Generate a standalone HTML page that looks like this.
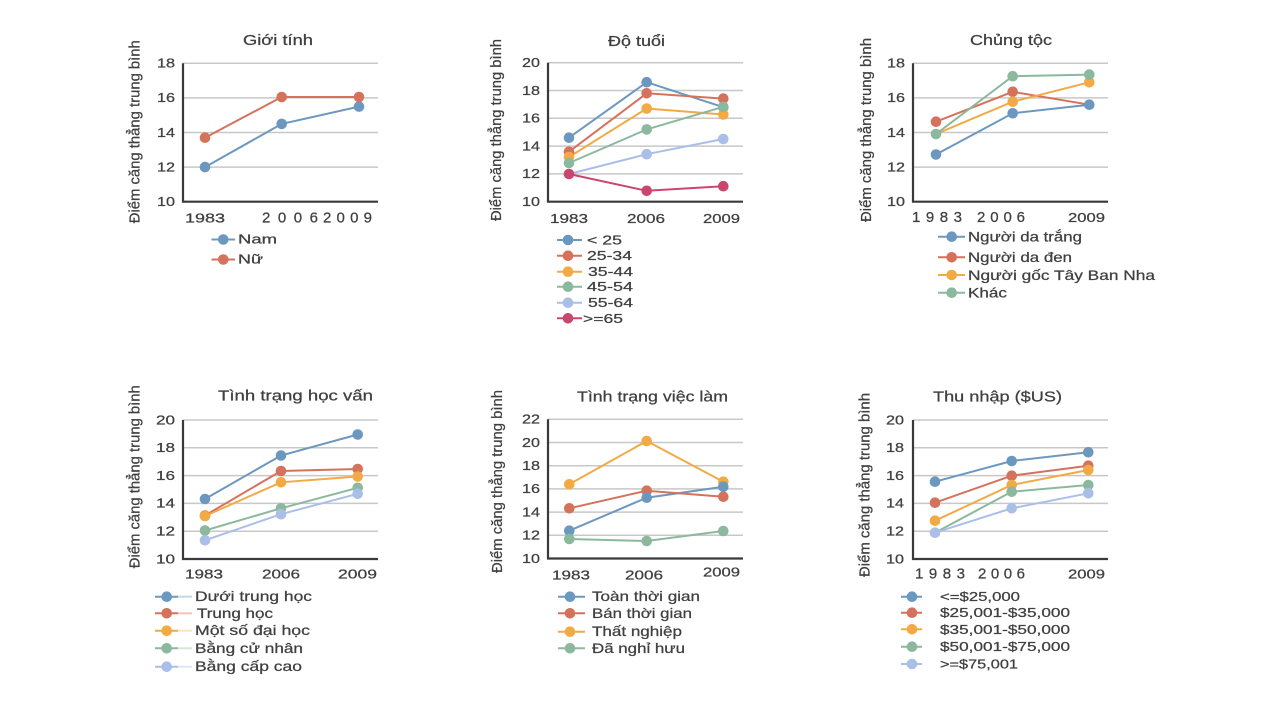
<!DOCTYPE html>
<html><head><meta charset="utf-8"><style>
html,body{margin:0;padding:0;background:#fff;}
svg{display:block;}
text{font-family:"Liberation Sans","DejaVu Sans",sans-serif;fill:#404040;stroke:#404040;stroke-width:0.25;}
.t{font-size:14.5px;}
.tk{font-size:13px;text-anchor:end;}
.xl{font-size:13px;}
.xs{font-size:15px;}
.lg{font-size:13px;}
.yl{font-size:15px;text-anchor:middle;}
.g{stroke:#c8c8c8;stroke-width:1.5;}
.ax{stroke:#3a3a3a;stroke-width:2.2;fill:none;}
polyline{fill:none;stroke-width:2;}
</style></head><body>
<svg width="1280" height="720" viewBox="0 0 1280 720" xmlns="http://www.w3.org/2000/svg">
<rect width="1280" height="720" fill="#fff"/>

<!-- ============ Panel 1: Giới tính ============ -->
<g>
<text class="t" x="243" y="45" textLength="70" lengthAdjust="spacingAndGlyphs">Giới tính</text>
<line class="g" x1="183" y1="63.3" x2="378" y2="63.3"/>
<line class="g" x1="183" y1="97.9" x2="378" y2="97.9"/>
<line class="g" x1="183" y1="132.5" x2="378" y2="132.5"/>
<line class="g" x1="183" y1="167.1" x2="378" y2="167.1"/>
<polyline class="ax" points="183,63.3 183,201.7 378,201.7"/>
<text class="tk" x="175" y="67.6" textLength="18" lengthAdjust="spacingAndGlyphs">18</text>
<text class="tk" x="175" y="102.2" textLength="18" lengthAdjust="spacingAndGlyphs">16</text>
<text class="tk" x="175" y="136.8" textLength="18" lengthAdjust="spacingAndGlyphs">14</text>
<text class="tk" x="175" y="171.4" textLength="18" lengthAdjust="spacingAndGlyphs">12</text>
<text class="tk" x="175" y="206" textLength="18" lengthAdjust="spacingAndGlyphs">10</text>
<text class="xl" x="185" y="222.3" textLength="40" lengthAdjust="spacingAndGlyphs">1983</text>
<text class="xs" x="262" y="222.3" textLength="56" lengthAdjust="spacing">2006</text>
<text class="xs" x="323" y="222.3" textLength="49" lengthAdjust="spacing">2009</text>
<text class="yl" transform="translate(139.5,131.7) rotate(-90)" textLength="183" lengthAdjust="spacingAndGlyphs">Điểm căng thẳng trung bình</text>
<polyline stroke="#6c98c0" points="205,167.1 281.7,123.9 359,106.6"/>
<g fill="#6c98c0"><circle cx="205" cy="167.1" r="5.3"/><circle cx="281.7" cy="123.9" r="5.3"/><circle cx="359" cy="106.6" r="5.3"/></g>
<polyline stroke="#d5725c" points="205,137.7 281.7,97 359,97"/>
<g fill="#d5725c"><circle cx="205" cy="137.7" r="5.3"/><circle cx="281.7" cy="97" r="5.3"/><circle cx="359" cy="97" r="5.3"/></g>
<line x1="211.5" y1="239.5" x2="235" y2="239.5" stroke="#6c98c0" stroke-width="2"/><circle cx="223.3" cy="239.5" r="5.3" fill="#6c98c0"/>
<text class="lg" x="238" y="243.5" textLength="39" lengthAdjust="spacingAndGlyphs">Nam</text>
<line x1="211.5" y1="259.5" x2="235" y2="259.5" stroke="#d5725c" stroke-width="2"/><circle cx="223.3" cy="259.5" r="5.3" fill="#d5725c"/>
<text class="lg" x="238" y="263.5" textLength="25" lengthAdjust="spacingAndGlyphs">Nữ</text>
</g>

<!-- ============ Panel 2: Độ tuổi ============ -->
<g>
<text class="t" x="608" y="46" textLength="57" lengthAdjust="spacingAndGlyphs">Độ tuổi</text>
<line class="g" x1="548" y1="62.7" x2="743" y2="62.7"/>
<line class="g" x1="548" y1="90.5" x2="743" y2="90.5"/>
<line class="g" x1="548" y1="118.3" x2="743" y2="118.3"/>
<line class="g" x1="548" y1="146.1" x2="743" y2="146.1"/>
<line class="g" x1="548" y1="173.9" x2="743" y2="173.9"/>
<polyline class="ax" points="548,62.7 548,201.7 743,201.7"/>
<text class="tk" x="540" y="67" textLength="18" lengthAdjust="spacingAndGlyphs">20</text>
<text class="tk" x="540" y="94.8" textLength="18" lengthAdjust="spacingAndGlyphs">18</text>
<text class="tk" x="540" y="122.6" textLength="18" lengthAdjust="spacingAndGlyphs">16</text>
<text class="tk" x="540" y="150.4" textLength="18" lengthAdjust="spacingAndGlyphs">14</text>
<text class="tk" x="540" y="178.2" textLength="18" lengthAdjust="spacingAndGlyphs">12</text>
<text class="tk" x="540" y="206" textLength="18" lengthAdjust="spacingAndGlyphs">10</text>
<text class="xl" x="550" y="223" textLength="38" lengthAdjust="spacingAndGlyphs">1983</text>
<text class="xl" x="627" y="223" textLength="38" lengthAdjust="spacingAndGlyphs">2006</text>
<text class="xl" x="703" y="223" textLength="37" lengthAdjust="spacingAndGlyphs">2009</text>
<text class="yl" transform="translate(501,130) rotate(-90)" textLength="182" lengthAdjust="spacingAndGlyphs">Điểm căng thẳng trung bình</text>
<polyline stroke="#6c98c0" points="569,137.7 646.7,82.2 723.3,107.2"/>
<polyline stroke="#d5725c" points="569,151.7 646.7,93.3 723.3,98.6"/>
<polyline stroke="#f2aa45" points="569,157 646.7,108.5 723.3,114.5"/>
<polyline stroke="#8cb99d" points="569,163 646.7,129.4 723.3,106.8"/>
<polyline stroke="#a9bfe8" points="569,174 646.7,154.2 723.3,139"/>
<polyline stroke="#c9476d" points="569,174 646.7,190.8 723.3,186.2"/>
<g fill="#6c98c0"><circle cx="569" cy="137.7" r="5.3"/><circle cx="646.7" cy="82.2" r="5.3"/><circle cx="723.3" cy="107.2" r="5.3"/></g>
<g fill="#d5725c"><circle cx="569" cy="151.7" r="5.3"/><circle cx="646.7" cy="93.3" r="5.3"/><circle cx="723.3" cy="98.6" r="5.3"/></g>
<g fill="#f2aa45"><circle cx="569" cy="157" r="5.3"/><circle cx="646.7" cy="108.5" r="5.3"/><circle cx="723.3" cy="114.5" r="5.3"/></g>
<g fill="#8cb99d"><circle cx="569" cy="163" r="5.3"/><circle cx="646.7" cy="129.4" r="5.3"/><circle cx="723.3" cy="106.8" r="5.3"/></g>
<g fill="#a9bfe8"><circle cx="646.7" cy="154.2" r="5.3"/><circle cx="723.3" cy="139" r="5.3"/></g>
<g fill="#c9476d"><circle cx="569" cy="174" r="5.3"/><circle cx="646.7" cy="190.8" r="5.3"/><circle cx="723.3" cy="186.2" r="5.3"/></g>
<g stroke-width="2">
<line x1="557" y1="240" x2="582" y2="240" stroke="#6c98c0"/><circle cx="568" cy="240" r="5.3" fill="#6c98c0"/>
<line x1="557" y1="255.7" x2="582" y2="255.7" stroke="#d5725c"/><circle cx="568" cy="255.7" r="5.3" fill="#d5725c"/>
<line x1="557" y1="271.7" x2="582" y2="271.7" stroke="#f2aa45"/><circle cx="568" cy="271.7" r="5.3" fill="#f2aa45"/>
<line x1="557" y1="286.7" x2="582" y2="286.7" stroke="#8cb99d"/><circle cx="568" cy="286.7" r="5.3" fill="#8cb99d"/>
<line x1="557" y1="302.7" x2="582" y2="302.7" stroke="#a9bfe8"/><circle cx="568" cy="302.7" r="5.3" fill="#a9bfe8"/>
<line x1="557" y1="318.3" x2="582" y2="318.3" stroke="#c9476d"/><circle cx="568" cy="318.3" r="5.3" fill="#c9476d"/>
</g>
<text class="lg" x="587" y="244.5" textLength="35" lengthAdjust="spacingAndGlyphs">&lt; 25</text>
<text class="lg" x="587" y="260.2" textLength="45" lengthAdjust="spacingAndGlyphs">25-34</text>
<text class="lg" x="588" y="276.2" textLength="45" lengthAdjust="spacingAndGlyphs">35-44</text>
<text class="lg" x="587" y="291.2" textLength="46" lengthAdjust="spacingAndGlyphs">45-54</text>
<text class="lg" x="588" y="307.2" textLength="45" lengthAdjust="spacingAndGlyphs">55-64</text>
<text class="lg" x="583" y="322.8" textLength="40" lengthAdjust="spacingAndGlyphs">&gt;=65</text>
</g>

<!-- ============ Panel 3: Chủng tộc ============ -->
<g>
<text class="t" x="970" y="45" textLength="82" lengthAdjust="spacingAndGlyphs">Chủng tộc</text>
<line class="g" x1="913" y1="63.3" x2="1108" y2="63.3"/>
<line class="g" x1="913" y1="97.9" x2="1108" y2="97.9"/>
<line class="g" x1="913" y1="132.5" x2="1108" y2="132.5"/>
<line class="g" x1="913" y1="167.1" x2="1108" y2="167.1"/>
<polyline class="ax" points="913,63.3 913,201.7 1108,201.7"/>
<text class="tk" x="905" y="67.6" textLength="18" lengthAdjust="spacingAndGlyphs">18</text>
<text class="tk" x="905" y="102.2" textLength="18" lengthAdjust="spacingAndGlyphs">16</text>
<text class="tk" x="905" y="136.8" textLength="18" lengthAdjust="spacingAndGlyphs">14</text>
<text class="tk" x="905" y="171.4" textLength="18" lengthAdjust="spacingAndGlyphs">12</text>
<text class="tk" x="905" y="206" textLength="18" lengthAdjust="spacingAndGlyphs">10</text>
<text class="xs" x="912" y="222" textLength="50" lengthAdjust="spacing">1983</text>
<text class="xs" x="977" y="222" textLength="48" lengthAdjust="spacing">2006</text>
<text class="xl" x="1068" y="222" textLength="37" lengthAdjust="spacingAndGlyphs">2009</text>
<text class="yl" transform="translate(871,130) rotate(-90)" textLength="184" lengthAdjust="spacingAndGlyphs">Điểm căng thẳng trung bình</text>
<polyline stroke="#6c98c0" points="936,154.5 1012.7,113.3 1089.3,104.7"/>
<polyline stroke="#d5725c" points="936,121.7 1012.7,91.8 1089.3,104.7"/>
<polyline stroke="#f2aa45" points="936,134 1012.7,101.7 1089.3,82.3"/>
<polyline stroke="#8cb99d" points="936,134 1012.7,76.2 1089.3,74.6"/>
<g fill="#6c98c0"><circle cx="936" cy="154.5" r="5.3"/><circle cx="1012.7" cy="113.3" r="5.3"/><circle cx="1089.3" cy="104.7" r="5.3"/></g>
<g fill="#d5725c"><circle cx="936" cy="121.7" r="5.3"/><circle cx="1012.7" cy="91.8" r="5.3"/></g>
<g fill="#f2aa45"><circle cx="1012.7" cy="101.7" r="5.3"/><circle cx="1089.3" cy="82.3" r="5.3"/></g>
<g fill="#8cb99d"><circle cx="936" cy="134" r="5.3"/><circle cx="1012.7" cy="76.2" r="5.3"/><circle cx="1089.3" cy="74.6" r="5.3"/></g>
<g stroke-width="2">
<line x1="938" y1="236.7" x2="965" y2="236.7" stroke="#6c98c0"/><circle cx="951.7" cy="236.7" r="5.3" fill="#6c98c0"/>
<line x1="938" y1="257.3" x2="965" y2="257.3" stroke="#d5725c"/><circle cx="951.7" cy="257.3" r="5.3" fill="#d5725c"/>
<line x1="938" y1="275" x2="965" y2="275" stroke="#f2aa45"/><circle cx="951.7" cy="275" r="5.3" fill="#f2aa45"/>
<line x1="938" y1="292.7" x2="965" y2="292.7" stroke="#8cb99d"/><circle cx="951.7" cy="292.7" r="5.3" fill="#8cb99d"/>
</g>
<text class="lg" x="968" y="241.5" textLength="114" lengthAdjust="spacingAndGlyphs" style="font-size:14px">Người da trắng</text>
<text class="lg" x="968" y="262" textLength="104" lengthAdjust="spacingAndGlyphs" style="font-size:14px">Người da đen</text>
<text class="lg" x="968" y="279.8" textLength="187" lengthAdjust="spacingAndGlyphs" style="font-size:14px">Người gốc Tây Ban Nha</text>
<text class="lg" x="968" y="297.5" textLength="39" lengthAdjust="spacingAndGlyphs" style="font-size:14px">Khác</text>
</g>

<!-- ============ Panel 4: Tình trạng học vấn ============ -->
<g>
<text class="t" x="218" y="400.7" textLength="155" lengthAdjust="spacingAndGlyphs">Tình trạng học vấn</text>
<line class="g" x1="183" y1="420" x2="378" y2="420"/>
<line class="g" x1="183" y1="447.8" x2="378" y2="447.8"/>
<line class="g" x1="183" y1="475.6" x2="378" y2="475.6"/>
<line class="g" x1="183" y1="503.4" x2="378" y2="503.4"/>
<line class="g" x1="183" y1="531.2" x2="378" y2="531.2"/>
<polyline class="ax" points="183,420 183,559 378,559"/>
<text class="tk" x="175" y="424.3" textLength="19" lengthAdjust="spacingAndGlyphs">20</text>
<text class="tk" x="175" y="452.1" textLength="19" lengthAdjust="spacingAndGlyphs">18</text>
<text class="tk" x="175" y="479.9" textLength="19" lengthAdjust="spacingAndGlyphs">16</text>
<text class="tk" x="175" y="507.7" textLength="19" lengthAdjust="spacingAndGlyphs">14</text>
<text class="tk" x="175" y="535.5" textLength="19" lengthAdjust="spacingAndGlyphs">12</text>
<text class="tk" x="175" y="563.3" textLength="19" lengthAdjust="spacingAndGlyphs">10</text>
<text class="xl" x="185" y="578.3" textLength="38" lengthAdjust="spacingAndGlyphs">1983</text>
<text class="xl" x="262" y="578.3" textLength="38" lengthAdjust="spacingAndGlyphs">2006</text>
<text class="xl" x="338" y="578.3" textLength="39" lengthAdjust="spacingAndGlyphs">2009</text>
<text class="yl" transform="translate(139.5,476.7) rotate(-90)" textLength="183" lengthAdjust="spacingAndGlyphs">Điểm căng thẳng trung bình</text>
<polyline stroke="#6c98c0" points="205,499 281,455.5 357.7,434.5"/>
<polyline stroke="#d5725c" points="205,515.5 281,471 357.7,469"/>
<polyline stroke="#f2aa45" points="205,516 281,482.3 357.7,476.5"/>
<polyline stroke="#8cb99d" points="205,530.5 281,508.3 357.7,487.8"/>
<polyline stroke="#a9bfe8" points="205,540.3 281,514.2 357.7,493.8"/>
<g fill="#6c98c0"><circle cx="205" cy="499" r="5.3"/><circle cx="281" cy="455.5" r="5.3"/><circle cx="357.7" cy="434.5" r="5.3"/></g>
<g fill="#d5725c"><circle cx="205" cy="515.5" r="5.3"/><circle cx="281" cy="471" r="5.3"/><circle cx="357.7" cy="469" r="5.3"/></g>
<g fill="#f2aa45"><circle cx="205" cy="516" r="5.3"/><circle cx="281" cy="482.3" r="5.3"/><circle cx="357.7" cy="476.5" r="5.3"/></g>
<g fill="#8cb99d"><circle cx="205" cy="530.5" r="5.3"/><circle cx="281" cy="508.3" r="5.3"/><circle cx="357.7" cy="487.8" r="5.3"/></g>
<g fill="#a9bfe8"><circle cx="205" cy="540.3" r="5.3"/><circle cx="281" cy="514.2" r="5.3"/><circle cx="357.7" cy="493.8" r="5.3"/></g>
<g stroke-width="2">
<line x1="155" y1="596.7" x2="178" y2="596.7" stroke="#6c98c0"/><line x1="178" y1="596.7" x2="192" y2="596.7" stroke="#c8d6ea"/><circle cx="166.7" cy="596.7" r="5.3" fill="#6c98c0"/>
<line x1="155" y1="613.3" x2="178" y2="613.3" stroke="#d5725c"/><line x1="178" y1="613.3" x2="192" y2="613.3" stroke="#f0c4b8"/><circle cx="166.7" cy="613.3" r="5.3" fill="#d5725c"/>
<line x1="155" y1="630.7" x2="178" y2="630.7" stroke="#f2aa45"/><line x1="178" y1="630.7" x2="192" y2="630.7" stroke="#f8e4c4"/><circle cx="166.7" cy="630.7" r="5.3" fill="#f2aa45"/>
<line x1="155" y1="648.3" x2="178" y2="648.3" stroke="#8cb99d"/><line x1="178" y1="648.3" x2="192" y2="648.3" stroke="#d4e6da"/><circle cx="166.7" cy="648.3" r="5.3" fill="#8cb99d"/>
<line x1="155" y1="666.7" x2="178" y2="666.7" stroke="#a9bfe8"/><line x1="178" y1="666.7" x2="192" y2="666.7" stroke="#dde6f6"/><circle cx="166.7" cy="666.7" r="5.3" fill="#a9bfe8"/>
</g>
<text class="lg" x="195" y="601.2" textLength="117" lengthAdjust="spacingAndGlyphs" style="font-size:14px">Dưới trung học</text>
<text class="lg" x="197" y="617.8" textLength="76" lengthAdjust="spacingAndGlyphs" style="font-size:14px">Trung học</text>
<text class="lg" x="195" y="635.2" textLength="115" lengthAdjust="spacingAndGlyphs" style="font-size:14px">Một số đại học</text>
<text class="lg" x="195" y="652.8" textLength="108" lengthAdjust="spacingAndGlyphs" style="font-size:14px">Bằng cử nhân</text>
<text class="lg" x="195" y="671.2" textLength="107" lengthAdjust="spacingAndGlyphs" style="font-size:14px">Bằng cấp cao</text>
</g>

<!-- ============ Panel 5: Tình trạng việc làm ============ -->
<g>
<text class="t" x="577" y="401.7" textLength="151" lengthAdjust="spacingAndGlyphs">Tình trạng việc làm</text>
<line class="g" x1="548" y1="419.3" x2="743" y2="419.3"/>
<line class="g" x1="548" y1="442.5" x2="743" y2="442.5"/>
<line class="g" x1="548" y1="465.7" x2="743" y2="465.7"/>
<line class="g" x1="548" y1="488.9" x2="743" y2="488.9"/>
<line class="g" x1="548" y1="512.1" x2="743" y2="512.1"/>
<line class="g" x1="548" y1="535.3" x2="743" y2="535.3"/>
<polyline class="ax" points="548,419.3 548,558.5 743,558.5"/>
<text class="tk" x="540" y="423.6" textLength="18" lengthAdjust="spacingAndGlyphs">22</text>
<text class="tk" x="540" y="446.8" textLength="18" lengthAdjust="spacingAndGlyphs">20</text>
<text class="tk" x="540" y="470" textLength="18" lengthAdjust="spacingAndGlyphs">18</text>
<text class="tk" x="540" y="493.2" textLength="18" lengthAdjust="spacingAndGlyphs">16</text>
<text class="tk" x="540" y="516.4" textLength="18" lengthAdjust="spacingAndGlyphs">14</text>
<text class="tk" x="540" y="539.6" textLength="18" lengthAdjust="spacingAndGlyphs">12</text>
<text class="tk" x="540" y="562.8" textLength="18" lengthAdjust="spacingAndGlyphs">10</text>
<text class="xl" x="552" y="579.3" textLength="38" lengthAdjust="spacingAndGlyphs">1983</text>
<text class="xl" x="625" y="579.3" textLength="38" lengthAdjust="spacingAndGlyphs">2006</text>
<text class="xl" x="703" y="576.7" textLength="37" lengthAdjust="spacingAndGlyphs">2009</text>
<text class="yl" transform="translate(502,481.5) rotate(-90)" textLength="183" lengthAdjust="spacingAndGlyphs">Điểm căng thẳng trung bình</text>
<polyline stroke="#6c98c0" points="569.3,530.7 646.7,497.7 723.3,486.7"/>
<polyline stroke="#d5725c" points="569.3,508.3 646.7,490.7 723.3,496.7"/>
<polyline stroke="#f2aa45" points="569.3,484.3 646.7,441 723.3,481.7"/>
<polyline stroke="#8cb99d" points="569.3,539 646.7,541 723.3,531"/>
<g fill="#f2aa45"><circle cx="569.3" cy="484.3" r="5.3"/><circle cx="646.7" cy="441" r="5.3"/><circle cx="723.3" cy="481.7" r="5.3"/></g>
<g fill="#d5725c"><circle cx="569.3" cy="508.3" r="5.3"/><circle cx="646.7" cy="490.7" r="5.3"/><circle cx="723.3" cy="496.7" r="5.3"/></g>
<g fill="#6c98c0"><circle cx="569.3" cy="530.7" r="5.3"/><circle cx="646.7" cy="497.7" r="5.3"/><circle cx="723.3" cy="486.7" r="5.3"/></g>
<g fill="#8cb99d"><circle cx="569.3" cy="539" r="5.3"/><circle cx="646.7" cy="541" r="5.3"/><circle cx="723.3" cy="531" r="5.3"/></g>
<g stroke-width="2">
<line x1="558" y1="596.7" x2="585" y2="596.7" stroke="#6c98c0"/><circle cx="570" cy="596.7" r="5.3" fill="#6c98c0"/>
<line x1="558" y1="613.3" x2="585" y2="613.3" stroke="#d5725c"/><circle cx="570" cy="613.3" r="5.3" fill="#d5725c"/>
<line x1="558" y1="631.7" x2="585" y2="631.7" stroke="#f2aa45"/><circle cx="570" cy="631.7" r="5.3" fill="#f2aa45"/>
<line x1="558" y1="648.3" x2="585" y2="648.3" stroke="#8cb99d"/><circle cx="570" cy="648.3" r="5.3" fill="#8cb99d"/>
</g>
<text class="lg" x="592" y="601.2" textLength="108" lengthAdjust="spacingAndGlyphs" style="font-size:14px">Toàn thời gian</text>
<text class="lg" x="592" y="617.8" textLength="100" lengthAdjust="spacingAndGlyphs" style="font-size:14px">Bán thời gian</text>
<text class="lg" x="592" y="636.2" textLength="90" lengthAdjust="spacingAndGlyphs" style="font-size:14px">Thất nghiệp</text>
<text class="lg" x="592" y="652.8" textLength="93" lengthAdjust="spacingAndGlyphs" style="font-size:14px">Đã nghỉ hưu</text>
</g>

<!-- ============ Panel 6: Thu nhập ============ -->
<g>
<text class="t" x="933" y="401.7" textLength="129" lengthAdjust="spacingAndGlyphs">Thu nhập ($US)</text>
<line class="g" x1="913" y1="420" x2="1108" y2="420"/>
<line class="g" x1="913" y1="447.8" x2="1108" y2="447.8"/>
<line class="g" x1="913" y1="475.6" x2="1108" y2="475.6"/>
<line class="g" x1="913" y1="503.4" x2="1108" y2="503.4"/>
<line class="g" x1="913" y1="531.2" x2="1108" y2="531.2"/>
<polyline class="ax" points="913,420 913,559 1108,559"/>
<text class="tk" x="904" y="424.3" textLength="18" lengthAdjust="spacingAndGlyphs">20</text>
<text class="tk" x="904" y="452.1" textLength="18" lengthAdjust="spacingAndGlyphs">18</text>
<text class="tk" x="904" y="479.9" textLength="18" lengthAdjust="spacingAndGlyphs">16</text>
<text class="tk" x="904" y="507.7" textLength="18" lengthAdjust="spacingAndGlyphs">14</text>
<text class="tk" x="904" y="535.5" textLength="18" lengthAdjust="spacingAndGlyphs">12</text>
<text class="tk" x="904" y="563.3" textLength="18" lengthAdjust="spacingAndGlyphs">10</text>
<text class="xs" x="915" y="578.3" textLength="50" lengthAdjust="spacing">1983</text>
<text class="xs" x="978" y="578.3" textLength="47" lengthAdjust="spacing">2006</text>
<text class="xl" x="1068" y="578.3" textLength="37" lengthAdjust="spacingAndGlyphs">2009</text>
<text class="yl" transform="translate(869.5,485) rotate(-90)" textLength="184" lengthAdjust="spacingAndGlyphs">Điểm căng thẳng trung bình</text>
<polyline stroke="#6c98c0" points="935,481.7 1011.7,461 1088.3,452.3"/>
<polyline stroke="#d5725c" points="935,502.7 1011.7,475.7 1088.3,465.7"/>
<polyline stroke="#f2aa45" points="935,520.7 1011.7,485 1088.3,470"/>
<polyline stroke="#8cb99d" points="935,532.7 1011.7,491.7 1088.3,485"/>
<polyline stroke="#a9bfe8" points="935,532.7 1011.7,508.3 1088.3,493.3"/>
<g fill="#6c98c0"><circle cx="935" cy="481.7" r="5.3"/><circle cx="1011.7" cy="461" r="5.3"/><circle cx="1088.3" cy="452.3" r="5.3"/></g>
<g fill="#d5725c"><circle cx="935" cy="502.7" r="5.3"/><circle cx="1011.7" cy="475.7" r="5.3"/><circle cx="1088.3" cy="465.7" r="5.3"/></g>
<g fill="#f2aa45"><circle cx="935" cy="520.7" r="5.3"/><circle cx="1011.7" cy="485" r="5.3"/><circle cx="1088.3" cy="470" r="5.3"/></g>
<g fill="#8cb99d"><circle cx="1011.7" cy="491.7" r="5.3"/><circle cx="1088.3" cy="485" r="5.3"/></g>
<g fill="#a9bfe8"><circle cx="935" cy="532.7" r="5.3"/><circle cx="1011.7" cy="508.3" r="5.3"/><circle cx="1088.3" cy="493.3" r="5.3"/></g>
<g stroke-width="2">
<line x1="901" y1="596.7" x2="922" y2="596.7" stroke="#6c98c0"/><circle cx="912" cy="596.7" r="5.3" fill="#6c98c0"/>
<line x1="901" y1="612.7" x2="922" y2="612.7" stroke="#d5725c"/><circle cx="912" cy="612.7" r="5.3" fill="#d5725c"/>
<line x1="901" y1="629.3" x2="922" y2="629.3" stroke="#f2aa45"/><circle cx="912" cy="629.3" r="5.3" fill="#f2aa45"/>
<line x1="901" y1="646.7" x2="922" y2="646.7" stroke="#8cb99d"/><circle cx="912" cy="646.7" r="5.3" fill="#8cb99d"/>
<line x1="901" y1="664" x2="922" y2="664" stroke="#a9bfe8"/><circle cx="912" cy="664" r="5.3" fill="#a9bfe8"/>
</g>
<text class="lg" x="940" y="601.2" textLength="80" lengthAdjust="spacingAndGlyphs">&lt;=$25,000</text>
<text class="lg" x="940" y="617.2" textLength="130" lengthAdjust="spacingAndGlyphs">$25,001-$35,000</text>
<text class="lg" x="940" y="633.8" textLength="130" lengthAdjust="spacingAndGlyphs">$35,001-$50,000</text>
<text class="lg" x="940" y="651.2" textLength="130" lengthAdjust="spacingAndGlyphs">$50,001-$75,000</text>
<text class="lg" x="940" y="668.5" textLength="78" lengthAdjust="spacingAndGlyphs">&gt;=$75,001</text>
</g>
</svg>
</body></html>
